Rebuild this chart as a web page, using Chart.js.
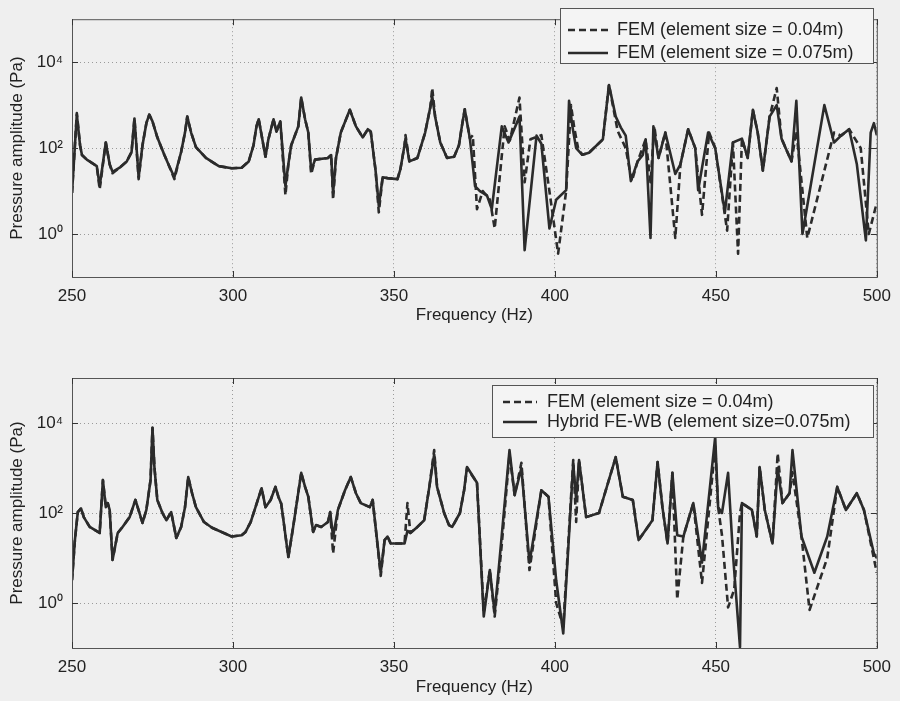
<!DOCTYPE html>
<html>
<head>
<meta charset="utf-8">
<title>Pressure amplitude vs frequency</title>
<script src="https://cdn.jsdelivr.net/npm/chart.js@4.4.0/dist/chart.umd.min.js"></script>
<style>
  html, body { margin: 0; padding: 0; background: #efefef; }
  #wrap { position: relative; width: 900px; height: 701px; }
  canvas { position: absolute; left: 0; }
  #topChart { top: 0; }
  #bottomChart { top: 340px; }
</style>
</head>
<body>
<div id="wrap">
  <canvas id="topChart" width="900" height="340"></canvas>
  <canvas id="bottomChart" width="900" height="361"></canvas>
</div>
<script>
// axis ticks
const xTickValues = [250, 300, 350, 400, 450, 500];
const yTickValues = [1, 100, 10000];
const yTickLabels = ['10\u2070', '10\u00b2', '10\u2074'];

// top panel: FEM 0.075 m (solid)
const topCoarseFreq = [
  250.0, 251.5, 252.5, 253.1, 254.6, 257.7, 258.6, 260.5, 261.7, 262.6,
  264.8, 267.0, 268.5, 269.4, 270.7, 271.9, 273.1, 274.0, 275.0, 276.5,
  278.7, 280.2, 281.8, 283.9, 285.1, 285.8, 287.0, 288.5, 291.6, 295.6,
  299.6, 302.7, 304.9, 306.4, 307.3, 308.0, 310.1, 311.0, 312.6, 313.5,
  314.7, 316.3, 317.2, 318.1, 320.3, 321.2, 322.4, 323.4, 324.3, 325.5,
  329.5, 330.5, 331.1, 332.0, 333.5, 336.3, 338.2, 340.3, 341.9, 342.8,
  344.3, 345.3, 346.5, 348.0, 351.1, 352.0, 353.3, 353.6, 354.8, 357.3,
  359.7, 361.3, 361.9, 362.8, 364.4, 366.5, 368.7, 370.2, 371.1, 372.0,
  372.7, 373.6, 375.2, 376.7, 378.9, 380.4, 383.5, 385.6, 389.0, 390.6,
  394.3, 395.8, 398.3, 400.4, 403.5, 404.4, 405.5, 406.6, 408.5, 410.6,
  414.9, 416.8, 418.9, 420.5, 422.0, 423.6, 425.7, 427.3, 428.2, 429.7,
  430.6, 432.2, 434.3, 437.4, 439.0, 441.4, 443.6, 444.5, 447.6, 449.8,
  452.8, 455.3, 458.1, 459.9, 461.5, 463.0, 464.6, 466.7, 468.9, 470.4,
  473.5, 475.0, 476.0, 476.9, 483.7, 486.7, 488.9, 491.4, 493.8, 496.6,
  498.1, 499.1, 500.0];
const topCoarseAmp = [
  9.1, 600, 117, 69, 54, 38, 13, 135, 42, 28,
  35, 49, 81, 490, 21, 117, 380, 600, 420, 178,
  69, 38, 21, 81, 230, 540, 230, 105, 59, 38,
  34, 35, 49, 117, 320, 470, 63, 160, 470, 240,
  420, 13, 42, 117, 320, 1500, 470, 230, 30, 54,
  59, 69, 9, 59, 230, 780, 320, 178, 275, 240,
  30, 4.5, 21, 20, 19, 32, 117, 166, 49, 59,
  230, 890, 1600, 540, 135, 59, 63, 117, 320, 800,
  400, 166, 13, 10, 7.9, 3.8, 320, 135, 540, 0.42,
  195, 126, 1.35, 6.3, 10.5, 1260, 300, 100, 70, 78,
  160, 2950, 540, 300, 195, 17, 49, 69, 160, 0.81,
  320, 59, 230, 25, 42, 275, 100, 10.5, 230, 100,
  3.2, 135, 166, 59, 780, 230, 30, 540, 1000, 166,
  49, 1260, 30, 1.0, 1000, 135, 195, 275, 42, 0.71,
  230, 380, 200];

// top panel: FEM 0.04 m (dashed)
const topFineFreq = [
  250.0, 251.5, 252.5, 253.1, 254.6, 257.7, 258.6, 260.5, 261.7, 262.6,
  264.8, 267.0, 268.5, 269.4, 270.7, 271.9, 273.1, 274.0, 275.0, 276.5,
  278.7, 280.2, 281.8, 283.9, 285.1, 285.8, 287.0, 288.5, 291.6, 295.6,
  299.6, 302.7, 304.9, 306.4, 307.3, 308.0, 310.1, 311.0, 312.6, 313.5,
  314.7, 316.3, 317.2, 318.1, 320.3, 321.2, 322.4, 323.4, 324.3, 325.5,
  329.5, 330.5, 331.1, 332.0, 333.5, 336.3, 338.2, 340.3, 341.9, 342.8,
  344.3, 345.3, 346.5, 348.0, 351.1, 352.0, 353.3, 353.6, 354.8, 357.3,
  359.7, 361.3, 361.9, 362.8, 364.4, 366.5, 368.7, 370.2, 371.1, 372.0,
  372.7, 373.6, 374.5, 375.8, 377.6, 379.8, 381.3, 384.4, 386.0, 389.0,
  390.6, 392.4, 395.8, 398.3, 401.0, 403.5, 405.0, 406.0, 407.2, 408.5,
  410.6, 414.9, 416.8, 419.5, 422.0, 423.9, 425.7, 428.2, 429.7, 430.9,
  432.2, 434.3, 437.4, 439.0, 441.4, 443.6, 445.7, 447.9, 449.8, 453.5,
  455.3, 456.9, 458.1, 459.9, 461.5, 463.0, 464.6, 466.7, 468.9, 470.4,
  473.5, 475.0, 476.5, 478.4, 486.7, 488.9, 491.4, 495.0, 497.5, 500.0];
const topFineAmp = [
  9.1, 650, 117, 69, 54, 38, 11, 135, 42, 26,
  35, 49, 81, 490, 19, 117, 380, 600, 420, 178,
  69, 38, 19, 81, 230, 540, 230, 105, 59, 38,
  34, 35, 49, 117, 320, 470, 63, 160, 470, 240,
  420, 8, 42, 117, 320, 1500, 470, 230, 25, 54,
  59, 69, 6.3, 59, 230, 780, 320, 178, 275, 240,
  30, 3.2, 21, 20, 19, 32, 117, 200, 49, 59,
  230, 890, 2500, 540, 135, 59, 63, 117, 320, 800,
  400, 166, 200, 3.8, 10, 6.3, 1.35, 320, 150, 1500,
  16, 160, 200, 10, 0.35, 10, 1000, 300, 100, 70,
  78, 160, 2950, 250, 100, 17, 49, 160, 16, 320,
  59, 230, 0.81, 42, 275, 100, 2.8, 230, 100, 1.2,
  135, 0.35, 166, 59, 780, 230, 30, 540, 2500, 166,
  49, 250, 20, 0.81, 230, 195, 275, 100, 1.0, 5.4];

// bottom panel: hybrid FE-WB 0.075 m (solid)
const botHybFreq = [
  250.0, 250.9, 251.8, 252.8, 253.7, 255.5, 258.6, 259.6, 260.5, 261.1,
  261.7, 262.6, 264.2, 265.7, 267.9, 269.7, 271.9, 273.1, 274.4, 275.0,
  275.6, 276.5, 278.1, 279.3, 280.8, 282.4, 283.9, 285.1, 286.1, 287.3,
  288.5, 291.0, 293.5, 299.6, 302.7, 303.9, 305.5, 307.0, 308.9, 310.1,
  311.7, 313.2, 314.1, 315.0, 317.2, 318.7, 321.2, 322.4, 323.4, 324.9,
  325.8, 327.4, 329.5, 330.2, 331.1, 332.6, 334.8, 336.6, 338.2, 339.7,
  342.5, 343.4, 344.3, 345.9, 347.1, 348.0, 349.0, 353.3, 354.2, 355.1,
  357.3, 359.4, 361.0, 362.5, 363.4, 365.6, 367.1, 368.1, 370.5, 371.8,
  372.7, 375.8, 377.9, 379.8, 381.3, 383.5, 385.9, 387.5, 389.6, 392.1,
  395.8, 398.0, 400.4, 402.6, 405.7, 406.6, 407.5, 409.7, 413.7, 418.9,
  421.1, 424.2, 426.0, 428.2, 430.3, 431.9, 433.4, 435.0, 436.5, 438.0,
  439.9, 443.0, 445.7, 449.8, 450.7, 451.9, 453.8, 455.3, 457.5, 458.1,
  461.2, 462.7, 463.6, 465.2, 467.6, 469.2, 470.7, 472.9, 473.8, 476.6,
  480.6, 484.6, 487.7, 490.4, 493.8, 496.0, 499.1, 500.0];
const botHybAmp = [
  3.2, 25, 105, 126, 80, 49, 36, 540, 135, 166,
  117, 9.1, 36, 49, 81, 195, 60, 117, 540, 7800,
  1050, 195, 100, 69, 105, 28, 49, 135, 630, 275,
  135, 63, 47, 30, 32, 38, 63, 135, 355, 135,
  195, 380, 230, 160, 10.5, 49, 780, 380, 230, 38,
  54, 49, 63, 105, 30, 117, 320, 630, 275, 166,
  135, 195, 49, 4.7, 25, 30, 21, 21, 40, 36,
  49, 69, 380, 2000, 380, 100, 54, 49, 100, 320,
  1050, 470, 0.5, 5.4, 0.6, 32, 2500, 250, 1000, 7.9,
  320, 230, 3.2, 0.21, 1260, 200, 1500, 81, 100, 1740,
  230, 195, 25, 42, 69, 1350, 135, 21, 780, 32,
  30, 166, 7.9, 4900, 135, 100, 780, 12.6, 0.105, 166,
  117, 30, 1050, 117, 21, 1000, 166, 275, 2500, 30,
  4.7, 30, 380, 117, 275, 117, 12.6, 10];

// bottom panel: FEM 0.04 m (dashed)
const botFemFreq = [
  250.0, 250.9, 251.8, 252.8, 253.7, 255.5, 258.6, 259.6, 260.5, 261.1,
  261.7, 262.6, 264.2, 265.7, 267.9, 269.7, 271.9, 273.1, 274.4, 275.0,
  275.6, 276.5, 278.1, 279.3, 280.8, 282.4, 283.9, 285.1, 286.1, 287.3,
  288.5, 291.0, 293.5, 299.6, 302.7, 303.9, 305.5, 307.0, 308.9, 310.1,
  311.7, 313.2, 314.1, 315.0, 317.2, 318.7, 321.2, 322.4, 323.4, 324.9,
  325.8, 327.4, 329.5, 330.2, 331.1, 332.6, 334.8, 336.6, 338.2, 339.7,
  342.5, 343.4, 344.3, 345.9, 347.1, 348.0, 349.0, 353.3, 354.2, 355.1,
  357.3, 359.4, 361.0, 362.5, 363.4, 365.6, 367.1, 368.1, 370.5, 371.8,
  372.7, 375.8, 377.9, 379.8, 381.3, 383.5, 385.9, 387.5, 389.6, 392.1,
  395.8, 398.0, 400.4, 402.6, 405.7, 406.6, 407.5, 409.7, 413.7, 418.9,
  421.1, 424.2, 426.0, 428.2, 430.3, 431.9, 433.4, 435.0, 436.5, 438.0,
  439.9, 443.0, 445.7, 449.8, 450.7, 451.9, 453.8, 455.7, 457.5, 458.1,
  461.2, 462.7, 463.6, 465.2, 467.6, 469.2, 470.7, 472.9, 473.8, 476.6,
  479.1, 484.6, 487.7, 490.4, 493.8, 496.0, 500.0];
const botFemAmp = [
  3.2, 25, 105, 126, 80, 49, 36, 540, 135, 166,
  117, 9.1, 36, 49, 81, 195, 60, 117, 540, 7800,
  1050, 195, 100, 69, 105, 28, 49, 135, 630, 275,
  135, 63, 47, 30, 32, 38, 63, 135, 355, 135,
  195, 380, 230, 160, 10.5, 49, 780, 380, 230, 38,
  54, 49, 63, 105, 12.6, 117, 320, 630, 275, 166,
  135, 195, 49, 4.0, 25, 30, 21, 21, 166, 36,
  49, 69, 380, 2500, 380, 100, 54, 49, 100, 320,
  1000, 470, 0.6, 5.4, 0.5, 20, 2000, 250, 1300, 5.4,
  320, 230, 1.0, 0.3, 1500, 63, 1500, 81, 100, 1740,
  230, 195, 25, 42, 69, 1350, 135, 21, 780, 1.2,
  30, 166, 2.8, 3000, 135, 32, 0.8, 2.0, 100, 166,
  117, 30, 1050, 117, 21, 2100, 166, 275, 800, 30,
  0.7, 10, 380, 117, 275, 117, 4.7];

const FONT = '"Liberation Sans", Arial, Helvetica, sans-serif';
const INK = '#2b2b2b';

function points(freq, amp) {
  return freq.map((f, i) => ({ x: f, y: amp[i] }));
}

// frame around the plot area plus short inward tick marks (matlab style)
const frameTicks = {
  id: 'frameTicks',
  afterDatasetsDraw(chart) {
    const { ctx, chartArea: a, scales } = chart;
    ctx.save();
    ctx.strokeStyle = '#555';
    ctx.lineWidth = 1;
    ctx.strokeRect(a.left + 0.5, a.top + 0.5, a.right - a.left, a.bottom - a.top);
    ctx.strokeStyle = '#333';
    ctx.beginPath();
    xTickValues.forEach(v => {
      const x = Math.round(scales.x.getPixelForValue(v)) + 0.5;
      ctx.moveTo(x, a.bottom); ctx.lineTo(x, a.bottom - 6);
      ctx.moveTo(x, a.top); ctx.lineTo(x, a.top + 6);
    });
    yTickValues.forEach(v => {
      const y = Math.round(scales.y.getPixelForValue(v)) + 0.5;
      ctx.moveTo(a.left, y); ctx.lineTo(a.left + 6, y);
      ctx.moveTo(a.right, y); ctx.lineTo(a.right - 6, y);
    });
    ctx.stroke();
    ctx.restore();
  }
};

// boxed legend sitting inside the axes, upper right
const boxLegend = {
  id: 'boxLegend',
  afterDraw(chart, args, opts) {
    const { ctx } = chart;
    ctx.save();
    ctx.fillStyle = '#f4f4f4';
    ctx.fillRect(opts.x, opts.y, opts.w, opts.h);
    ctx.strokeStyle = '#555';
    ctx.lineWidth = 1;
    ctx.strokeRect(opts.x + 0.5, opts.y + 0.5, opts.w, opts.h);
    ctx.font = '18px ' + FONT;
    ctx.textBaseline = 'middle';
    chart.data.datasets.forEach((ds, i) => {
      const y = opts.y + opts.rows[i];
      ctx.strokeStyle = ds.borderColor;
      ctx.lineWidth = ds.borderWidth;
      ctx.setLineDash(ds.borderDash || []);
      ctx.beginPath();
      ctx.moveTo(opts.lineFrom, y);
      ctx.lineTo(opts.lineTo, y);
      ctx.stroke();
      ctx.setLineDash([]);
      ctx.fillStyle = '#222';
      ctx.fillText(ds.label, opts.textX, y);
    });
    ctx.restore();
  }
};

function makeChart(id, datasets, cfg) {
  return new Chart(document.getElementById(id), {
    type: 'line',
    data: { datasets },
    plugins: [frameTicks, boxLegend],
    options: {
      responsive: false,
      animation: false,
      layout: { padding: { top: cfg.padTop, right: 17, left: 0, bottom: 0 } },
      elements: { point: { radius: 0 }, line: { tension: 0, borderJoinStyle: 'round' } },
      plugins: {
        legend: { display: false },
        tooltip: { enabled: false },
        boxLegend: cfg.legend
      },
      scales: {
        x: {
          type: 'linear',
          min: 250,
          max: 500,
          afterBuildTicks(scale) { scale.ticks = xTickValues.map(v => ({ value: v })); },
          afterFit(scale) { scale.height = cfg.xAxisHeight; },
          ticks: { color: '#222', font: { family: FONT, size: 17 }, padding: 9, maxRotation: 0 },
          grid: { color: '#9a9a9a', lineWidth: 1, drawTicks: false },
          border: { display: false, dash: [1, 3] },
          title: {
            display: true, text: 'Frequency (Hz)', color: '#222',
            font: { family: FONT, size: 17 }, padding: { top: 0, bottom: cfg.xTitlePad }
          }
        },
        y: {
          type: 'logarithmic',
          min: 0.1,
          max: 100000,
          afterBuildTicks(scale) { scale.ticks = yTickValues.map(v => ({ value: v })); },
          afterFit(scale) { scale.width = 72; },
          ticks: {
            color: '#222', font: { family: FONT, size: 17 }, padding: 9,
            callback: (v) => yTickLabels[yTickValues.indexOf(v)]
          },
          grid: { color: '#9a9a9a', lineWidth: 1, drawTicks: false },
          border: { display: false, dash: [1, 3] },
          title: {
            display: true, text: 'Pressure amplitude (Pa)', color: '#222',
            font: { family: FONT, size: 17 }, padding: { top: 7, bottom: 0 }
          }
        }
      }
    }
  });
}

makeChart('topChart', [
  { label: 'FEM (element size = 0.04m)', data: points(topFineFreq, topFineAmp),
    borderColor: INK, borderWidth: 2.6, borderDash: [7, 4] },
  { label: 'FEM (element size = 0.075m)', data: points(topCoarseFreq, topCoarseAmp),
    borderColor: INK, borderWidth: 2.6 }
], {
  padTop: 8, xAxisHeight: 63, xTitlePad: 14,
  legend: { x: 560, y: 8, w: 313, h: 55, rows: [22, 45], lineFrom: 568, lineTo: 608, textX: 617 }
});

makeChart('bottomChart', [
  { label: 'FEM (element size = 0.04m)', data: points(botFemFreq, botFemAmp),
    borderColor: INK, borderWidth: 2.6, borderDash: [7, 4] },
  { label: 'Hybrid FE-WB (element size=0.075m)', data: points(botHybFreq, botHybAmp),
    borderColor: INK, borderWidth: 2.6 }
], {
  padTop: 38, xAxisHeight: 53, xTitlePad: 3,
  legend: { x: 492, y: 45, w: 381, h: 52, rows: [17, 37], lineFrom: 503, lineTo: 537, textX: 547 }
});
</script>
</body>
</html>
